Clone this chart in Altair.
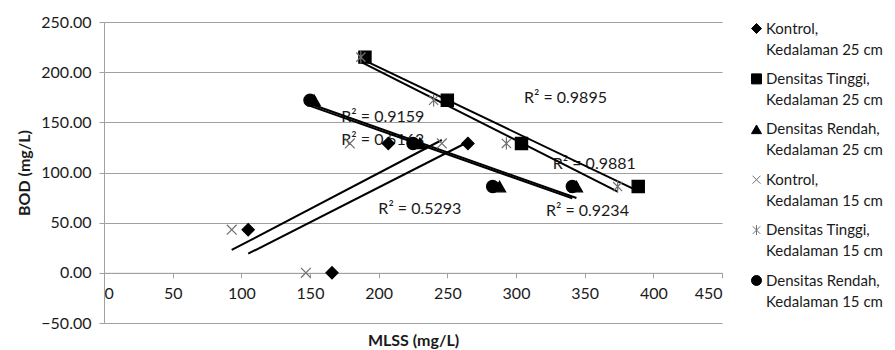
import altair as alt
import pandas as pd

# ---------------- data ----------------
series_names = [
    "Kontrol,|Kedalaman 25 cm",
    "Densitas Tinggi,|Kedalaman 25 cm",
    "Densitas Rendah,|Kedalaman 25 cm",
    "Kontrol,|Kedalaman 15 cm",
    "Densitas Tinggi,|Kedalaman 15 cm",
    "Densitas Rendah,|Kedalaman 15 cm",
]

kontrol25_mlss = [105, 166, 207, 265]
kontrol25_bod = [43, 0, 129, 129]
tinggi25_mlss = [190, 250, 304, 389]
tinggi25_bod = [215, 172, 129, 86]
rendah25_mlss = [153, 230, 288, 344]
rendah25_bod = [172, 129, 86, 86]
kontrol15_mlss = [93, 147, 179, 246]
kontrol15_bod = [43, 0, 129, 129]
tinggi15_mlss = [187, 240, 293, 374]
tinggi15_bod = [215, 172, 129, 86]
rendah15_mlss = [150, 225, 283, 341]
rendah15_bod = [172, 129, 86, 86]

r2_labels = ["R² = 0.9159", "R² = 0.5163", "R² = 0.9895", "R² = 0.9881", "R² = 0.5293", "R² = 0.9234"]
r2_label_mlss = [203, 203, 336, 357, 230, 352]
r2_label_bod = [155, 132, 174, 108, 64, 62]

x_ticks = [0, 50, 100, 150, 200, 250, 300, 350, 400, 450]
y_ticks = [-50, 0, 50, 100, 150, 200, 250]

# ---------------- tables ----------------
xs = [kontrol25_mlss, tinggi25_mlss, rendah25_mlss, kontrol15_mlss, tinggi15_mlss, rendah15_mlss]
ys = [kontrol25_bod, tinggi25_bod, rendah25_bod, kontrol15_bod, tinggi15_bod, rendah15_bod]
rows = []
for name, xv, yv in zip(series_names, xs, ys):
    for a, b in zip(xv, yv):
        rows.append({"series": name, "MLSS": a, "BOD": b})
df = pd.DataFrame(rows)
lab = pd.DataFrame({"t": r2_labels, "MLSS": r2_label_mlss, "BOD": r2_label_bod})

FONT = "Lato"
TXT = "#1a1a1a"
GRID = "#a0a0a0"
W, H = 618, 301

shape_range = [
    "diamond",
    "square",
    "triangle-up",
    "M-0.8,-0.8L0.8,0.8M-0.8,0.8L0.8,-0.8",
    "M-0.75,-0.75L0.75,0.75M-0.75,0.75L0.75,-0.75M0,-1L0,1",
    "circle",
]
fill_range = ["black", "black", "black", "transparent", "transparent", "black"]
stroke_range = ["black", "black", "black", "#707070", "#707070", "black"]

xscale = alt.Scale(domain=[0, 450], nice=False, zero=False)
yscale = alt.Scale(domain=[-50, 250], nice=False, zero=False)

x_enc = alt.X(
    "MLSS:Q",
    scale=xscale,
    axis=alt.Axis(
        values=x_ticks, format="d", grid=False, title="MLSS (mg/L)",
        offset=-H * 50 / 300, tickSize=5, tickColor=GRID, domainColor=GRID,
        labelPadding=8, titlePadding=31,
    ),
)
y_enc = alt.Y(
    "BOD:Q",
    scale=yscale,
    axis=alt.Axis(
        values=y_ticks, format=".2f", grid=True, gridColor=GRID, title="BOD (mg/L)",
        tickSize=5, tickColor=GRID, domainColor=GRID, labelPadding=8, titlePadding=8,
    ),
)

legend = alt.Legend(
    title=None, orient="none", legendX=645, legendY=-1,
    labelExpr="split(datum.label, '|')", symbolSize=100, rowPadding=13.4,
    labelOffset=2, labelFont=FONT, labelFontSize=15, labelColor=TXT, labelLimit=300,
    symbolStrokeWidth=1,
)

text = alt.Chart(lab).mark_text(font=FONT, fontSize=16, color=TXT, align="center", baseline="middle").encode(
    x=alt.X("MLSS:Q", scale=xscale), y=alt.Y("BOD:Q", scale=yscale), text="t:N"
)

lines = alt.Chart(df).transform_regression(
    "MLSS", "BOD", groupby=["series"]
).mark_line(color="black", strokeWidth=2).encode(
    x=x_enc, y=y_enc, detail="series:N"
)

points = alt.Chart(df).mark_point(size=150, opacity=1, strokeWidth=1.2).encode(
    x=alt.X("MLSS:Q", scale=xscale),
    y=alt.Y("BOD:Q", scale=yscale),
    shape=alt.Shape("series:N", scale=alt.Scale(domain=series_names, range=shape_range), sort=series_names, legend=legend),
    fill=alt.Fill("series:N", scale=alt.Scale(domain=series_names, range=fill_range), sort=series_names, legend=legend),
    stroke=alt.Stroke("series:N", scale=alt.Scale(domain=series_names, range=stroke_range), sort=series_names, legend=legend),
)

chart = (
    alt.layer(text, lines, points)
    .properties(
        width=W, height=H, autosize="none",
        padding={"left": 96, "top": 14, "right": 165, "bottom": 34},
    )
    .configure(style={"guide-label": {"lineHeight": 21}})
    .configure_view(stroke=None)
    .configure_axis(
        labelFont=FONT, labelFontSize=16, labelColor=TXT,
        titleFont=FONT, titleFontSize=16, titleColor=TXT, titleFontWeight="bold",
    )
)

chart.save("out.html", embed_options={"renderer": "svg", "actions": False})
